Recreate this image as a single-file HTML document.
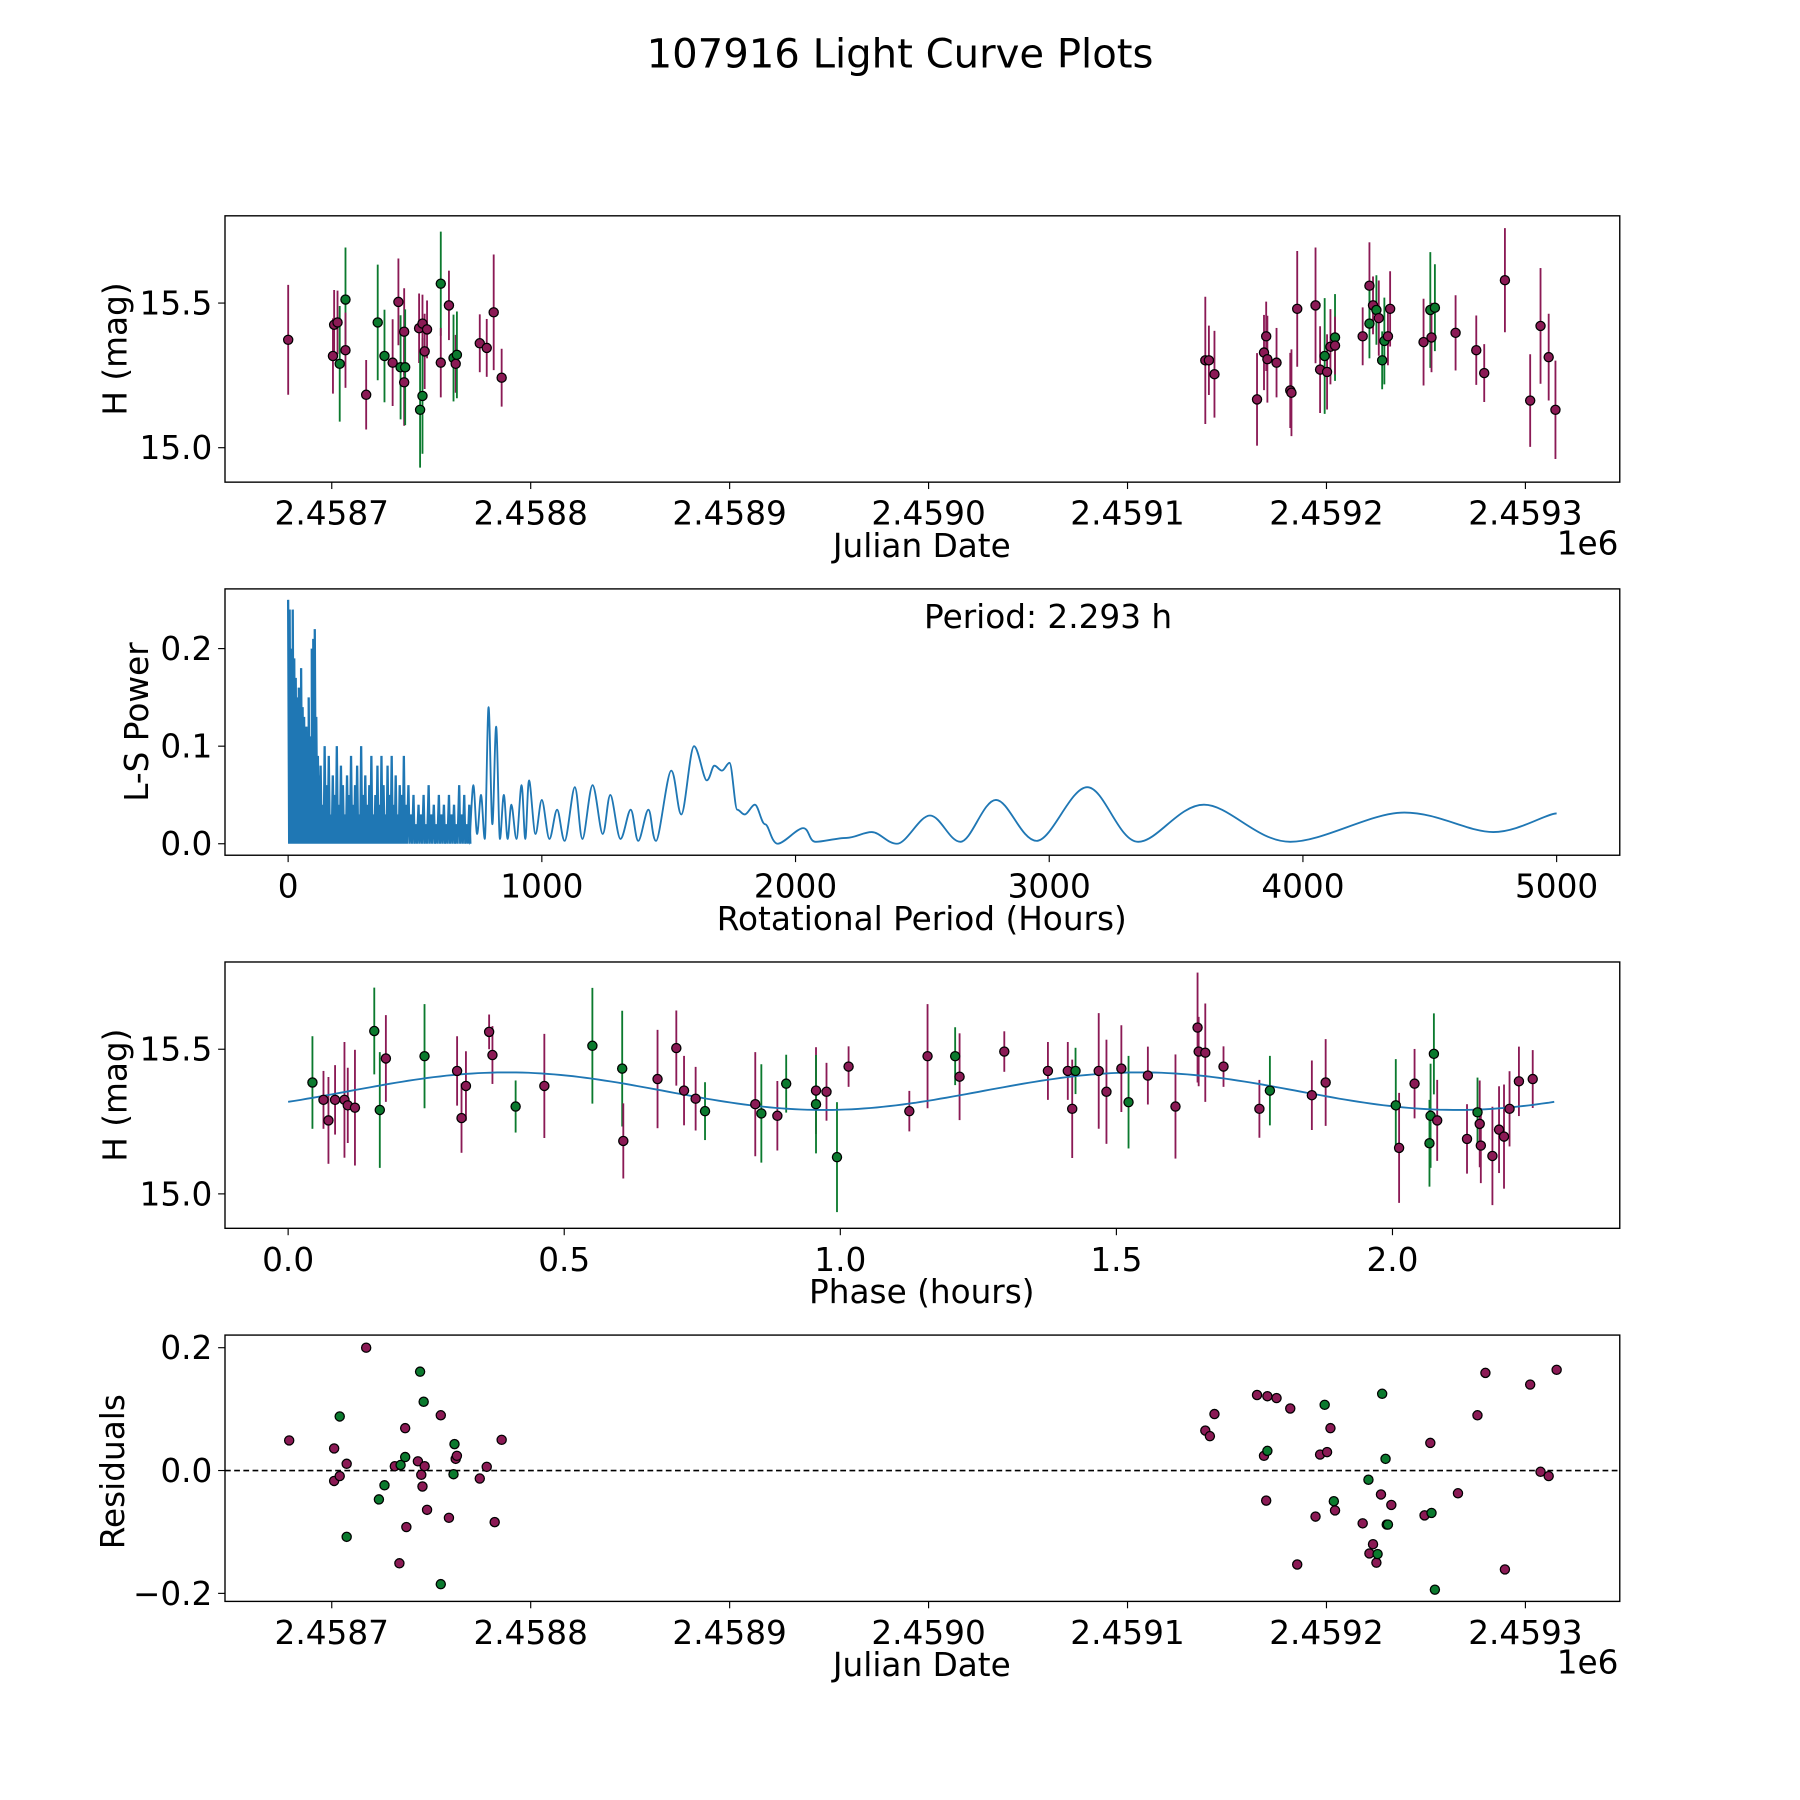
<!DOCTYPE html>
<html><head><meta charset="utf-8"><style>
html,body{margin:0;padding:0;background:#fff;}
svg{display:block;font-family:"DejaVu Sans","Liberation Sans",sans-serif;}
</style></head><body>
<svg id="fig" width="1800" height="1800" viewBox="0 0 1568 1568" xmlns="http://www.w3.org/2000/svg">
<rect width="1568" height="1568" fill="#fff"/>
<text x="784" y="59" font-size="35" text-anchor="middle">107916 Light Curve Plots</text>
</svg>
<script>
// ---- Panel 1: light curve (days since JD 2458700) ----
const lcDays=[-21.9,0.6,1.2,2.9,4.0,6.9,6.9,17.3,23.1,26.5,30.6,33.5,34.6,36.4,36.4,36.9,43.9,44.4,45.6,45.6,46.7,47.9,54.8,54.8,58.9,61.2,62.3,62.9,74.4,77.9,81.4,85.4,
439.1,440.9,443.7,465.1,468.6,469.7,470.3,474.9,481.8,482.4,485.3,494.5,496.8,499.1,500.3,502.0,504.3,504.3,518.2,521.6,521.6,523.4,525.1,526.3,528.0,529.1,530.9,532.0,548.8,552.2,552.8,554.5,564.9,575.3,579.3,589.7,602.4,607.6,611.7,615.1];
const lcMag=[15.373,15.317,15.425,15.433,15.290,15.512,15.337,15.183,15.433,15.317,15.294,15.504,15.278,15.226,15.401,15.278,15.413,15.131,15.179,15.429,15.333,15.409,15.567,15.294,15.492,15.310,15.290,15.321,15.361,15.345,15.468,15.242,
15.302,15.302,15.254,15.167,15.329,15.385,15.306,15.294,15.198,15.190,15.480,15.492,15.270,15.317,15.262,15.349,15.381,15.353,15.385,15.560,15.429,15.492,15.476,15.448,15.302,15.369,15.385,15.480,15.365,15.476,15.381,15.484,15.397,15.337,15.258,15.579,15.163,15.421,15.313,15.131];
const lcErr=[0.19,0.13,0.12,0.11,0.2,0.18,0.13,0.12,0.2,0.16,0.15,0.15,0.18,0.15,0.15,0.2,0.12,0.2,0.2,0.1,0.13,0.1,0.18,0.12,0.12,0.15,0.1,0.15,0.1,0.1,0.2,0.1,
0.22,0.12,0.15,0.16,0.13,0.12,0.15,0.12,0.13,0.15,0.2,0.2,0.15,0.2,0.13,0.13,0.15,0.1,0.1,0.15,0.12,0.1,0.12,0.13,0.1,0.15,0.1,0.13,0.15,0.2,0.12,0.15,0.13,0.12,0.1,0.18,0.16,0.2,0.15,0.17];
const lcBand=["p","p","p","p","g","g","p","p","g","g","p","p","g","p","p","g","p","g","g","p","p","p","g","p","p","g","p","g","p","p","p","p",
"p","p","p","p","p","p","p","p","p","p","p","p","p","g","p","p","g","p","p","p","g","p","g","p","g","g","p","p","p","g","p","g","p","p","p","p","p","p","p","p"];
// ---- Panel 2: periodogram ----
const densePeriods=[0,3,6,9,12,15,18,21,24,27,30,33,36,39,42,45,48,51,54,57,60,63,66,69,72,75,78,81,84,87,90,93,96,99,102,105,108,111,114,117,120,
128,136,144,152,160,168,176,184,192,200,208,216,224,232,240,248,256,264,272,280,288,296,304,312,320,328,336,344,352,360,368,376,384,392,400,408,416,424,432,440,448,456,464,
474,484,494,504,514,524,534,544,554,564,574,584,594,604,614,624,634,644,654,664,674,684,694,704,714];
const densePowers=[0.25,0.12,0.24,0.05,0.2,0.16,0.24,0.08,0.19,0.14,0.17,0.06,0.15,0.1,0.16,0.05,0.12,0.18,0.09,0.14,0.06,0.13,0.11,0.08,0.12,0.05,0.1,0.15,0.07,0.11,0.09,0.2,0.06,0.21,0.12,0.22,0.1,0.13,0.05,0.09,0.07,
0.08,0.04,0.1,0.06,0.09,0.03,0.07,0.05,0.1,0.04,0.08,0.06,0.03,0.07,0.05,0.09,0.04,0.06,0.08,0.03,0.1,0.05,0.07,0.04,0.06,0.09,0.03,0.05,0.08,0.04,0.09,0.06,0.03,0.08,0.05,0.09,0.04,0.07,0.03,0.06,0.05,0.09,0.04,
0.06,0.03,0.05,0.02,0.04,0.03,0.05,0.02,0.06,0.03,0.04,0.02,0.05,0.03,0.04,0.02,0.05,0.03,0.04,0.02,0.06,0.03,0.05,0.02,0.04];
const smoothPeriods=[714,730,745,760,775,790,805,820,835,850,865,880,900,920,935,950,975,1000,1030,1060,1090,1130,1160,1200,1240,1270,1310,1350,1380,1420,1450,1510,1550,1600,1650,1680,1710,1740,1770,1800,1840,1880,1930,2030,2080,2200,2300,2400,2530,2650,2790,2950,3150,3350,3610,3950,4400,4750,5000];
const smoothPowers=[0.0,0.06,0.01,0.05,0.005,0.14,0.02,0.12,0.005,0.05,0.005,0.04,0.005,0.06,0.005,0.065,0.01,0.045,0.005,0.035,0.003,0.058,0.005,0.06,0.01,0.05,0.005,0.035,0.003,0.035,0.003,0.075,0.03,0.1,0.065,0.08,0.075,0.083,0.035,0.03,0.04,0.02,0.0,0.016,0.002,0.006,0.012,0.0,0.029,0.002,0.045,0.003,0.058,0.002,0.04,0.002,0.032,0.012,0.031];
// ---- Panel 3: phased ----
const phHours=[0.044,0.064,0.073,0.085,0.102,0.108,0.121,0.156,0.166,0.177,0.247,0.306,0.314,0.322,0.364,0.370,0.412,0.464,0.551,0.605,0.607,0.669,0.703,0.717,0.738,0.755,0.846,0.857,0.886,0.902,0.956,0.956,0.975,0.994,1.015,1.125,1.158,1.208,1.216,1.297,1.376,1.412,1.420,1.426,1.468,1.482,1.509,1.522,1.557,1.607,1.647,1.649,1.661,1.694,1.759,1.778,1.854,1.879,2.006,2.012,2.040,2.067,2.069,2.075,2.081,2.135,2.154,2.158,2.160,2.181,2.193,2.202,2.212,2.229,2.254];
const phMag=[15.385,15.325,15.254,15.325,15.325,15.306,15.298,15.563,15.290,15.468,15.476,15.425,15.262,15.373,15.560,15.480,15.302,15.373,15.512,15.433,15.183,15.397,15.504,15.357,15.329,15.286,15.310,15.278,15.270,15.381,15.357,15.310,15.353,15.127,15.440,15.286,15.476,15.476,15.405,15.492,15.425,15.425,15.294,15.425,15.425,15.353,15.433,15.317,15.409,15.302,15.575,15.492,15.488,15.440,15.294,15.357,15.341,15.385,15.306,15.159,15.381,15.175,15.270,15.484,15.254,15.190,15.282,15.242,15.167,15.131,15.222,15.198,15.294,15.389,15.397];
const phBand=["g","p","p","p","p","p","p","g","g","p","g","p","p","p","p","p","g","p","g","g","p","p","p","p","p","g","p","g","p","g","p","g","p","g","p","p","p","g","p","p","p","p","p","g","p","p","p","g","p","p","p","p","p","p","p","g","p","p","g","p","p","g","g","g","p","p","g","p","p","p","p","p","p","p","p"];
const phErr=[0.16,0.1,0.15,0.12,0.2,0.13,0.2,0.15,0.2,0.15,0.18,0.12,0.12,0.12,0.06,0.1,0.09,0.18,0.2,0.2,0.13,0.17,0.13,0.12,0.11,0.1,0.18,0.17,0.12,0.1,0.15,0.17,0.1,0.19,0.07,0.07,0.18,0.1,0.15,0.07,0.1,0.1,0.17,0.08,0.2,0.18,0.15,0.16,0.1,0.18,0.19,0.12,0.17,0.07,0.1,0.12,0.12,0.15,0.16,0.19,0.12,0.15,0.18,0.14,0.14,0.12,0.12,0.15,0.13,0.17,0.15,0.18,0.13,0.12,0.1];
const fitParams=[15.355,0.065,0.11,1.1465]; // mean, amplitude, phase offset, half period
const fitRange=[0,2.293];
// ---- Panel 4: residuals ----
const resDays=[-21.4,1.2,1.2,4.0,4.0,7.5,7.5,17.3,23.7,26.5,31.7,34.0,34.6,36.9,36.9,37.5,43.3,44.4,45.0,45.6,46.2,46.7,47.9,54.8,54.8,58.9,61.2,61.7,62.3,62.9,74.4,77.9,81.9,85.4,
439.1,441.4,443.7,465.1,468.6,470.3,469.7,470.3,474.9,481.8,485.3,494.5,496.8,499.1,500.3,502.0,503.7,504.3,518.2,521.1,521.6,523.4,525.1,525.7,527.4,528.0,529.7,530.3,530.9,532.6,549.3,552.2,552.8,554.5,566.1,575.9,579.9,589.7,602.4,607.6,611.7,615.7];
const resVals=[0.049,0.036,-0.017,0.088,-0.009,0.011,-0.108,0.200,-0.047,-0.024,0.007,-0.151,0.009,0.069,0.022,-0.092,0.015,0.161,-0.007,-0.026,0.112,0.007,-0.064,0.090,-0.185,-0.077,-0.006,0.043,0.019,0.024,-0.013,0.006,-0.084,0.050,
0.065,0.056,0.092,0.123,0.024,0.032,-0.049,0.121,0.118,0.101,-0.153,-0.075,0.026,0.107,0.030,0.069,-0.050,-0.065,-0.086,-0.015,-0.135,-0.120,-0.150,-0.136,-0.039,0.125,0.019,-0.088,-0.088,-0.056,-0.073,0.045,-0.069,-0.194,-0.037,0.090,0.159,-0.161,0.140,-0.002,-0.009,0.164];
const resBand=["p","p","p","g","p","p","g","p","g","g","p","p","g","p","g","p","p","g","p","p","g","p","p","p","g","p","g","g","p","p","p","p","p","p",
"p","p","p","p","p","g","p","p","p","p","p","p","p","g","p","p","g","p","p","g","p","p","p","g","p","g","g","p","g","p","p","p","g","g","p","p","p","p","p","p","p","p"];

const jdTicks=["2.4587","2.4588","2.4589","2.4590","2.4591","2.4592","2.4593"];
const jdTickDays=[0,100,200,300,400,500,600];
const magTicks=[15.0,15.5];
const perTicks=[0,1000,2000,3000,4000,5000];
const powTicks=[0.0,0.1,0.2];
const phTicks=[0.0,0.5,1.0,1.5,2.0];
const resTicks=[-0.2,0.0,0.2];

const NS="http://www.w3.org/2000/svg";
const svg=document.getElementById('fig');
const COL={p:"#8b1a55",g:"#0b7a2e"};
const FS=28.5;
function el(tag,attrs,parent){const e=document.createElementNS(NS,tag);for(const k in attrs)e.setAttribute(k,attrs[k]);(parent||svg).appendChild(e);return e;}
const L=196,R=1411;
const panels=[[188,420],[513,745],[838,1070],[1163,1395]];
const xJD=d=>289+d*1.733;
const yMag=(m,p)=>panels[p][0]+76-(m-15.5)*252;
const xPer=h=>251+h*0.221;
const yPow=v=>735-v*850;
const xPh=h=>251+h*481;
const yRes=v=>1281-v*535;

function frame(i,name){
  const g=el('g',{});
  
  
  const r=el('rect',{x:L,y:panels[i][0],width:R-L,height:panels[i][1]-panels[i][0],fill:'none',stroke:'#000','stroke-width':1.2},g);
  
  
  return g;
}
function xtick(g,x,yb,label){
  el('line',{x1:x,y1:yb,x2:x,y2:yb+6,stroke:'#000','stroke-width':1},g);
  const t=el('text',{x:x,y:yb+37,'font-size':FS,'text-anchor':'middle'},g);
  t.textContent=label;
  
  
}
function ytick(g,y,label){
  el('line',{x1:L-6,y1:y,x2:L,y2:y,stroke:'#000','stroke-width':1},g);
  const t=el('text',{x:L-11,y:y+10,'font-size':FS,'text-anchor':'end'},g);
  t.textContent=label;
  
  
}
function label(g,txt,x,y,rot,name){
  const t=el('text',{x:x,y:y,'font-size':FS,'text-anchor':'middle'},g);
  if(rot)t.setAttribute('transform','rotate(-90 '+x+' '+y+')');
  t.textContent=txt;
  
  
}
function mtxt(v){return v.toFixed(1).replace('-','\u2212');}
function point(g,x,y,c,name){
  const c1=el('circle',{cx:x,cy:y,r:4,fill:c,stroke:'#000','stroke-width':1.1},g);
  
  
}
function errbar(g,x,y1,y2,c){
  const l=el('line',{x1:x,y1:y1,x2:x,y2:y2,stroke:c,'stroke-width':1.6},g);
  
  
}

// Panel 1
let g1=frame(0,'light-curve-panel');
jdTicks.forEach((t,i)=>xtick(g1,xJD(jdTickDays[i]),420,t));
magTicks.forEach(m=>ytick(g1,yMag(m,0),m.toFixed(1)));
label(g1,'Julian Date',803,485,false,'x-axis-title');
label(g1,'1e6',1383,483,false,'x-offset-label');
label(g1,'H (mag)',110,304,true,'y-axis-title');
lcDays.forEach((d,i)=>errbar(g1,xJD(d),yMag(lcMag[i]+lcErr[i],0),yMag(lcMag[i]-lcErr[i],0),COL[lcBand[i]]));
lcDays.forEach((d,i)=>point(g1,xJD(d),yMag(lcMag[i],0),COL[lcBand[i]],'light-curve-point'));

// Panel 2
let g2=frame(1,'periodogram-panel');
perTicks.forEach(t=>xtick(g2,xPer(t),745,String(t)));
powTicks.forEach(t=>ytick(g2,yPow(t),t.toFixed(1)));
label(g2,'Rotational Period (Hours)',803,810,false,'x-axis-title');
label(g2,'L-S Power',129,629,true,'y-axis-title');
label(g2,'Period: 2.293 h',913,547,false,'period-annotation');
let dp='';
densePeriods.forEach((h,i)=>{const x=xPer(h);dp+=(i?'L':'M')+x.toFixed(1)+' '+yPow(densePowers[i]).toFixed(1)+' L'+(x+0.9).toFixed(1)+' '+yPow(0).toFixed(1)+' ';});
const dense=el('path',{d:dp,fill:'none',stroke:'#1f77b4','stroke-width':2},g2);


let pts=smoothPeriods.map((h,i)=>[xPer(h),yPow(smoothPowers[i])]);
let sp='M'+pts[0][0]+' '+pts[0][1];
for(let i=0;i<pts.length-1;i++){
  const p0=pts[Math.max(0,i-1)],p1=pts[i],p2=pts[i+1],p3=pts[Math.min(pts.length-1,i+2)];
  const c1x=p1[0]+(p2[0]-p0[0])/6,c2x=p2[0]-(p3[0]-p1[0])/6;
  sp+=' C'+c1x.toFixed(1)+' '+p1[1].toFixed(1)+' '+c2x.toFixed(1)+' '+p2[1].toFixed(1)+' '+p2[0].toFixed(1)+' '+p2[1].toFixed(1);
}
const smooth=el('path',{d:sp,fill:'none',stroke:'#1f77b4','stroke-width':1.6},g2);



// Panel 3
let g3=frame(2,'phase-panel');
phTicks.forEach(t=>xtick(g3,xPh(t),1070,t.toFixed(1)));
magTicks.forEach(m=>ytick(g3,yMag(m,2),m.toFixed(1)));
label(g3,'Phase (hours)',803,1135,false,'x-axis-title');
label(g3,'H (mag)',110,954,true,'y-axis-title');
phHours.forEach((h,i)=>errbar(g3,xPh(h),yMag(phMag[i]+phErr[i],2),yMag(phMag[i]-phErr[i],2),COL[phBand[i]]));
let fp='';
for(let k=0;k<=200;k++){const h=fitRange[0]+(fitRange[1]-fitRange[0])*k/200;const m=fitParams[0]+fitParams[1]*Math.sin(2*Math.PI*(h-fitParams[2])/fitParams[3]);fp+=(k?'L':'M')+xPh(h).toFixed(1)+' '+yMag(m,2).toFixed(1)+' ';}
const fit=el('path',{d:fp,fill:'none',stroke:'#1f77b4','stroke-width':1.6},g3);


phHours.forEach((h,i)=>point(g3,xPh(h),yMag(phMag[i],2),COL[phBand[i]],'phase-point'));

// Panel 4
let g4=frame(3,'residuals-panel');
jdTicks.forEach((t,i)=>xtick(g4,xJD(jdTickDays[i]),1395,t));
resTicks.forEach(t=>ytick(g4,yRes(t),mtxt(t)));
label(g4,'Julian Date',803,1460,false,'x-axis-title');
label(g4,'1e6',1383,1458,false,'x-offset-label');
label(g4,'Residuals',108,1282,true,'y-axis-title');
const zl=el('line',{x1:L,y1:yRes(0),x2:R,y2:yRes(0),stroke:'#000','stroke-width':1.4,'stroke-dasharray':'5 3'},g4);


resDays.forEach((d,i)=>point(g4,xJD(d),yRes(resVals[i]),COL[resBand[i]],'residual-point'));
</script>
</body></html>
